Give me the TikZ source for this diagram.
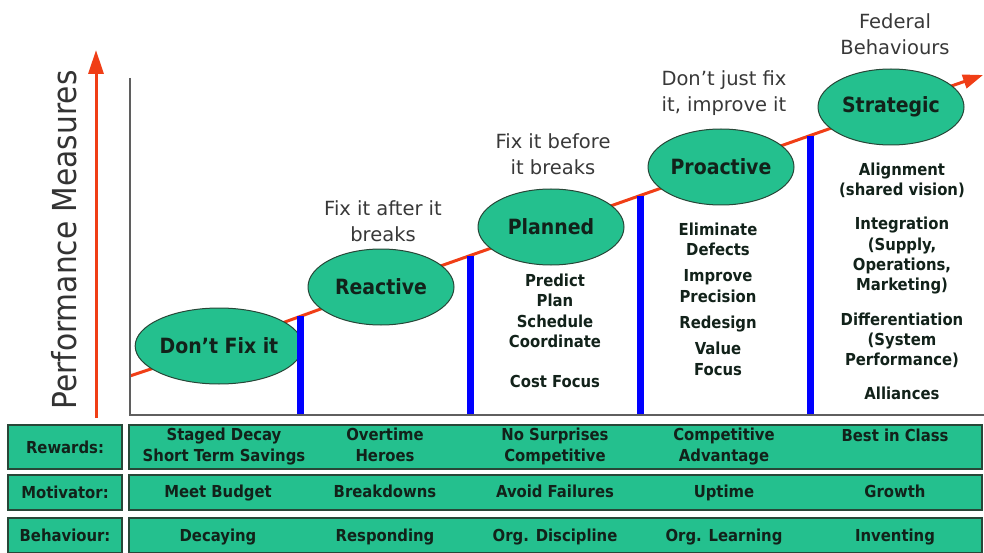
\documentclass[tikz,border=0pt]{standalone}
\usepackage{fontspec}
\setmainfont{DejaVu Sans Condensed}
\newfontfamily\notefamily{DejaVu Sans}
\usetikzlibrary{shapes.geometric,arrows.meta}
\pgfdeclarelayer{back}
\pgfsetlayers{back,main}
\definecolor{stagegreen}{RGB}{36,192,142}
\definecolor{edgegreen}{RGB}{40,70,55}
\definecolor{inkdark}{RGB}{18,34,26}
\definecolor{trendred}{RGB}{240,62,22}
\definecolor{axisgray}{RGB}{95,95,95}
\begin{document}
\begin{tikzpicture}[x=1pt,y=-1pt,
  stage/.style={ellipse, draw=edgegreen, line width=1pt, fill=stagegreen,
    minimum width=146pt, minimum height=76pt, inner sep=0pt,
    font=\fontsize{21}{24}\selectfont\bfseries, text=inkdark},
  note/.style={align=center, font=\notefamily\fontsize{19.5}{26.5}\selectfont, text=black!78},
  items/.style={align=center, font=\fontsize{16.5}{20.3}\selectfont\bfseries, text=inkdark},
  cell/.style={draw=edgegreen, line width=1.3pt, fill=stagegreen, inner sep=0pt,
    font=\fontsize{16.5}{21}\selectfont\bfseries, text=inkdark},
  celltext/.style={align=center, font=\fontsize{16.5}{21}\selectfont\bfseries, text=inkdark},
  cellline/.style={font=\fontsize{16.5}{21}\selectfont\bfseries, text=inkdark,
    text height=12pt, text depth=4pt},
  bar/.style={draw=blue, line width=7pt},
  trend/.style={draw=trendred, line width=3pt},
]
\useasboundingbox (0,0) rectangle (984,553);

% vertical measure arrow and its label
\coordinate (pmbase) at (96,418);
\coordinate (pmtip) at (96,50);
\draw[trend, -{Triangle[width=15pt,length=24pt]}] (pmbase) -- (pmtip);
\node[rotate=90, font=\fontsize{33}{35}\selectfont, text=black!80] (pm) at (64,240) {Performance Measures};

% axes
\coordinate (ytop) at (130,78);
\coordinate (origin) at (130,415);
\coordinate (xend) at (984,415);

% maturity stages
\node[stage] (s1) at (219,346) {Don’t Fix it};
\node[stage] (s2) at (381,287) {Reactive};
\node[stage] (s3) at (551,227) {Planned};
\node[stage] (s4) at (721,167) {Proactive};
\node[stage] (s5) at (891,107) {Strategic};

% trend line behind the stages
\coordinate (trendstart) at (130,376);
\coordinate (trendtip) at (983,75);
\begin{pgfonlayer}{back}
\draw[trend, -{Triangle[width=14pt,length=20pt]}] (trendstart) -- (s1.center) -- (s2.center) -- (s3.center) -- (s4.center) -- (s5.center) -- (trendtip);
\end{pgfonlayer}

% step bars
\foreach \bx/\by [count=\i] in {300/316, 470/256, 640/196, 810/136} {
  \coordinate (bartop\i) at (\bx,\by);
  \coordinate (barfoot\i) at (\bx,415);
  \draw[bar] (bartop\i) -- (barfoot\i);
}
\draw[axisgray, line width=1.6pt] (ytop) -- (origin) -- (xend);

% captions above stages
\node[note] (n2) at (383,221) {Fix it after it\\breaks};
\node[note] (n3) at (553,154) {Fix it before\\it breaks};
\node[note] (n4) at (724,93) {Don’t just fix\\it, improve it};
\node[note] (n5) at (895,34) {Federal\\Behaviours};

% practices under stages
\node[items] (l3) at (555,331) {Predict\\Plan\\Schedule\\Coordinate\\[20.3pt]Cost Focus};
\node[items] (l4) at (718,299) {Eliminate\\Defects\\[6pt]Improve\\Precision\\[6pt]Redesign\\[6pt]Value\\Focus};
\node[items] (l5) at (902,281) {Alignment\\(shared vision)\\[14pt]Integration\\(Supply,\\Operations,\\Marketing)\\[14pt]Differentiation\\(System\\Performance)\\[13pt]Alliances};

% table rows
\node[cell, minimum width=114pt, minimum height=44pt] (h1) at (65,447) {Rewards:};
\node[cell, minimum width=114pt, minimum height=35pt] (h2) at (65,492.5) {Motivator:};
\node[cell, minimum width=114pt, minimum height=35pt] (h3) at (65,535.5) {Behaviour:};
\node[cell, minimum width=853pt, minimum height=44pt] (r1) at (555.5,447) {};
\node[cell, minimum width=853pt, minimum height=35pt] (r2) at (555.5,492.5) {};
\node[cell, minimum width=853pt, minimum height=35pt] (r3) at (555.5,535.5) {};

\node[celltext] (a1) at (224,447) {\strut Staged Decay\\\strut Short Term Savings};
\node[celltext] (a2) at (385,447) {\strut Overtime\\\strut Heroes};
\node[celltext] (a3) at (555,447) {\strut No Surprises\\\strut Competitive};
\node[celltext] (a4) at (724,447) {\strut Competitive\\\strut Advantage};
\node[cellline] (a5) at (895,437) {Best in Class};

\node[cellline] (b1) at (218,493) {Meet Budget};
\node[cellline] (b2) at (385,493) {Breakdowns};
\node[cellline] (b3) at (555,493) {Avoid Failures};
\node[cellline] (b4) at (724,493) {Uptime};
\node[cellline] (b5) at (895,493) {Growth};

\node[cellline] (c1) at (218,537) {Decaying};
\node[cellline] (c2) at (385,537) {Responding};
\node[cellline] (c3) at (555,537) {Org. Discipline};
\node[cellline] (c4) at (724,537) {Org. Learning};
\node[cellline] (c5) at (895,537) {Inventing};
\end{tikzpicture}
\end{document}
